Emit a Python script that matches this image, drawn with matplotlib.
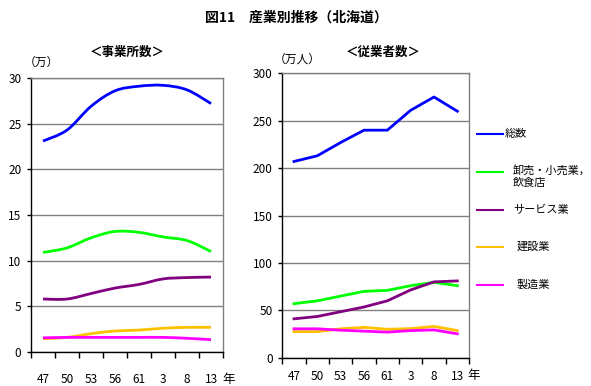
import matplotlib
matplotlib.use("Agg")
import matplotlib.pyplot as plt
from matplotlib.path import Path
from matplotlib.patches import PathPatch
from matplotlib.lines import Line2D
import numpy as np

plt.rcParams['font.family'] = ['Noto Sans CJK JP', 'DejaVu Sans']

years = ["47", "50", "53", "56", "61", "3", "8", "13"]
series_names = ["総数", "卸売・小売業，\n飲食店", "サービス業", "建設業", "製造業"]
colors = ["#0000FF", "#00FF00", "#800080", "#FFC000", "#FF00FF"]

# 事業所数 (万)
est_total = [23.1, 24.3, 26.9, 28.6, 29.1, 29.2, 28.7, 27.2]
est_trade = [10.9, 11.4, 12.5, 13.2, 13.1, 12.6, 12.2, 11.0]
est_service = [5.8, 5.8, 6.4, 7.0, 7.4, 8.0, 8.15, 8.2]
est_constr = [1.45, 1.6, 2.0, 2.3, 2.4, 2.6, 2.7, 2.7]
est_manuf = [1.55, 1.6, 1.6, 1.6, 1.6, 1.6, 1.5, 1.35]

# 従業者数 (万人)
emp_total = [207, 213, 227, 240, 240, 261, 275, 260]
emp_trade = [57, 60, 65, 70, 71, 76, 79.5, 76]
emp_service = [41, 43.5, 48.5, 53.5, 60, 71.5, 80, 81]
emp_constr = [27.5, 27.5, 30.5, 32, 30, 30.7, 33, 28.6]
emp_manuf = [30.5, 30.5, 29, 28, 27, 28.6, 29.3, 25.2]

fig = plt.figure(figsize=(5.91, 3.86), dpi=100)

def smooth_path(x, y):
    pts = np.column_stack([x, y]).astype(float)
    n = len(pts)
    verts = [pts[0]]
    codes = [Path.MOVETO]
    for i in range(n - 1):
        p0 = pts[i - 1] if i > 0 else pts[i]
        p1 = pts[i]
        p2 = pts[i + 1]
        p3 = pts[i + 2] if i + 2 < n else pts[i + 1]
        c1 = p1 + (p2 - p0) / 6.0
        c2 = p2 - (p3 - p1) / 6.0
        verts += [c1, c2, p2]
        codes += [Path.CURVE4] * 3
    return Path(verts, codes)

def setup_axes(ax, ymax, ystep, xpad):
    n = len(years)
    ax.set_xlim(-0.5, n - 0.5)
    ax.set_ylim(0, ymax)
    ax.set_yticks(np.arange(0, ymax + 1, ystep))
    ax.set_xticks(range(n))
    ax.set_xticklabels(years)
    ax.set_xticks(np.arange(-0.5, n, 1.0), minor=True)
    ax.tick_params(axis='x', which='major', length=0, pad=xpad, labelsize=8.5)
    ax.tick_params(axis='x', which='minor', length=4, width=1, color='black', direction='out')
    ax.tick_params(axis='y', length=3, width=1, direction='out', labelsize=8.5, pad=4)
    ax.yaxis.grid(True, color='#808080', linewidth=1)
    ax.set_axisbelow(True)
    for s in ['top', 'right']:
        ax.spines[s].set_color('#808080')
        ax.spines[s].set_linewidth(1)
    for s in ['left', 'bottom']:
        ax.spines[s].set_color('black')
        ax.spines[s].set_linewidth(1)

ax1 = fig.add_axes([0.0525, 0.0881, 0.3249, 0.7098])
setup_axes(ax1, 30, 5, 15)
xs = np.arange(len(years))
for vals, c in zip([est_total, est_trade, est_service, est_constr, est_manuf], colors):
    ax1.add_patch(PathPatch(smooth_path(xs, vals), facecolor='none', edgecolor=c, linewidth=2.0, zorder=3))

ax2 = fig.add_axes([0.4777, 0.0733, 0.3159, 0.7368])
setup_axes(ax2, 300, 50, 9)
for vals, c in zip([emp_total, emp_trade, emp_service, emp_constr, emp_manuf], colors):
    ax2.plot(xs, vals, color=c, linewidth=2.0, zorder=3)

# Titles and labels
fig.text(296 / 591, 1 - 18 / 386, "図11　産業別推移（北海道）", ha='center', va='center', fontsize=10, fontweight='bold')
fig.text(127 / 591, 1 - 52 / 386, "＜事業所数＞", ha='center', va='center', fontsize=9, fontweight='bold')
fig.text(383 / 591, 1 - 52 / 386, "＜従業者数＞", ha='center', va='center', fontsize=9, fontweight='bold')
fig.text(41 / 591, 1 - 62 / 386, "（万）", ha='center', va='center', fontsize=8.5)
fig.text(297 / 591, 1 - 59 / 386, "（万人）", ha='center', va='center', fontsize=8.5)
fig.text(229 / 591, 1 - 380 / 386, "年", ha='center', va='center', fontsize=9)
fig.text(474 / 591, 1 - 375 / 386, "年", ha='center', va='center', fontsize=9)

# Legend
leg_y = [134, 172, 210, 247, 285]
leg_x = [505, 513, 513, 517, 517]
for name, c, y, tx in zip(series_names, colors, leg_y, leg_x):
    fig.add_artist(Line2D([477 / 591, 503 / 591], [1 - y / 386, 1 - y / 386], color=c, linewidth=1.5,
                          transform=fig.transFigure))
    if "\n" in name:
        fig.text(tx / 591, 1 - (y - 7) / 386, name, ha='left', va='top', fontsize=8, linespacing=1.3)
    else:
        fig.text(tx / 591, 1 - y / 386, name, ha='left', va='center', fontsize=8)

fig.savefig("out.png", dpi=100)
